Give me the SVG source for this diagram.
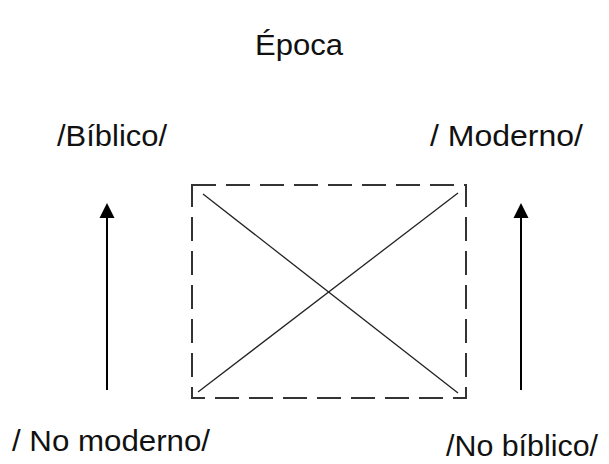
<svg xmlns="http://www.w3.org/2000/svg" width="609" height="464" viewBox="0 0 609 464">
<style>
text{font-family:"Liberation Sans",Arial,sans-serif;font-size:30px;fill:#111}
.arrow{stroke:#000;stroke-width:2;fill:none}
.dash{stroke:#333;stroke-width:2;fill:none;stroke-dasharray:24 10}
.diag{stroke:#222;stroke-width:1.3;fill:none}
.head{fill:#000}
</style>
<rect width="609" height="464" fill="#fff"/>
<g id="title"><text x="255" y="55" textLength="88" lengthAdjust="spacingAndGlyphs">Época</text></g>
<g id="biblico"><text x="57" y="146" textLength="110" lengthAdjust="spacingAndGlyphs">/Bíblico/</text></g>
<g id="moderno"><text x="430" y="146" textLength="153" lengthAdjust="spacingAndGlyphs">/ Moderno/</text></g>
<g id="nomoderno"><text x="12" y="451" textLength="198" lengthAdjust="spacingAndGlyphs">/ No moderno/</text></g>
<g id="nobiblico"><text x="446" y="456" textLength="152" lengthAdjust="spacingAndGlyphs">/No bíblico/</text></g>
<g id="square">
<rect class="dash" x="192" y="185" width="274" height="213"/>
<line class="diag" x1="203" y1="194" x2="458" y2="393"/>
<line class="diag" x1="458" y1="193" x2="198" y2="392"/>
</g>
<g id="connectors">
<line class="arrow" x1="107" y1="390" x2="107" y2="216"/>
<path class="head" d="M99.5,218 L107,203 L114.5,218 Z"/>
<line class="arrow" x1="521" y1="390" x2="521" y2="216"/>
<path class="head" d="M513.5,218 L521,203 L528.5,218 Z"/>
</g>
</svg>
